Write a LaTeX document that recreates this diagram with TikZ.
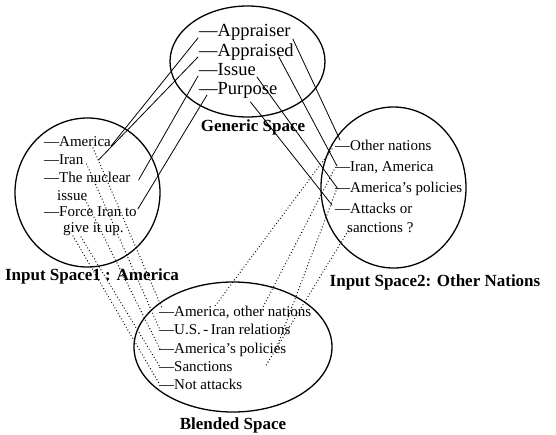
\documentclass[tikz,border=0pt]{standalone}
\usepackage{fontspec}
\setmainfont{Liberation Serif}
\usetikzlibrary{calc}

\begin{document}
\begin{tikzpicture}[x=1pt,y=-1pt,line cap=round,line join=round,
    item/.style={anchor=west,inner sep=0pt,text height=10.5pt,text depth=3pt,font=\fontsize{15}{16}\selectfont},
    gitem/.style={item,text height=13pt,text depth=4pt,font=\fontsize{18.5}{20}\selectfont},
    spacename/.style={inner sep=0pt,font=\fontsize{17}{18}\selectfont\bfseries},
    spaceline/.style={line width=1.3pt},
    link/.style={line width=0.8pt},
    blendlink/.style={line width=1.3pt,dash pattern=on 0pt off 3.2pt}]
                \useasboundingbox (0,0) rectangle (556,434);
                \draw [spaceline] (247.5,61.5) ellipse [x radius=77.5pt, y radius=55.5pt];
                \draw [spaceline] (87.5,192.5) ellipse [x radius=72.5pt, y radius=74.5pt];
                \draw [spaceline] (393.5,187.5) ellipse [x radius=72.5pt, y radius=80.5pt];
                \draw [spaceline] (233,347) ellipse [x radius=99pt, y radius=65pt];
                % generic space
                \node [gitem] (gAr) at (199,32) {---Appraiser};
                \node [gitem] (gAd) at (199,52) {---Appraised};
                \node [gitem] (gIs) at (199,71) {---Issue};
                \node [gitem] (gPu) at (199,90) {---Purpose};
                \node [spacename] (tGen) at (253,127) {Generic Space};
                % input space 1
                \node [item] (lAm) at (44,143) {---America};
                \node [item] (lIr) at (44,161) {---Iran};
                \node [item] (lNu) at (44,179) {---The nuclear};
                \node [item] (lIs) at (57,197) {issue};
                \node [item] (lFo) at (44,213) {---Force Iran to};
                \node [item] (lGi) at (63,229) {give it up.};
                \node [spacename] (tIn1) at (92,276) {Input Space1 : America};
                % input space 2
                \node [item] (rOt) at (335,147) {---Other nations};
                \node [item] (rIr) at (335,168) {---Iran, America};
                \node [item] (rPo) at (335,189) {---America’s policies};
                \node [item] (rAt) at (335,210) {---Attacks or};
                \node [item] (rSa) at (347,229) {sanctions ?};
                \node [spacename] (tIn2) at (435,282) {Input Space2: Other Nations};
                % blended space
                \node [item] (bAm) at (159,313) {---America, other nations};
                \node [item] (bUs) at (159,331) {---U.S.\,-\,Iran relations};
                \node [item] (bPo) at (159,350) {---America’s policies};
                \node [item] (bSa) at (159,368) {---Sanctions};
                \node [item] (bNo) at (159,386) {---Not attacks};
                \node [spacename] (tBl) at (233,425) {Blended Space};
                % generic -> inputs
                \draw [link] ([shift={(-1,6)}]gAr.west) -- ([shift={(0,3)}]lAm.east);
                \draw [link] ([shift={(-1,5)}]gAd.west) -- ([shift={(15,-1)}]lIr.east);
                \draw [link] ([shift={(-1,5)}]gIs.west) -- ([shift={(8,1)}]lNu.east);
                \draw [link] ([shift={(8,5)}]gPu.west) -- ([shift={(1,-4)}]lFo.east);
                \draw [link] ([shift={(2,7)}]gAr.east) -- ([shift={(5,-7)}]rOt.west);
                \draw [link] ([shift={(-15,5)}]gAd.east) -- ([shift={(2,-2)}]rIr.west);
                \draw [link] ([shift={(1,6)}]gIs.east) -- ([shift={(3,0)}]rPo.west);
                \draw [link] ([shift={(-27,12)}]gPu.east) -- ([shift={(-3,-5)}]rAt.west);
                % inputs -> blend
                \draw [blendlink] ([shift={(-18,5)}]lAm.east) -- ([shift={(3,-5)}]bAm.west);
                \draw [blendlink] ([shift={(3,3)}]lIr.east) -- ([shift={(1,-1)}]bUs.west);
                \draw [blendlink] ([shift={(-2,3)}]lIs.east) -- ([shift={(1,-1)}]bPo.west);
                \draw [blendlink] ([shift={(18,8)}]lGi.west) -- ([shift={(1,-1)}]bSa.west);
                \draw [blendlink] ([shift={(10,7)}]lGi.west) -- ([shift={(1,-1)}]bNo.west);
                \draw [blendlink] ([shift={(-3,2)}]rOt.west) -- ([shift={(56,-7)}]bAm.west);
                \draw [blendlink] ([shift={(-1,2)}]rIr.west) -- ([shift={(103,-4)}]bAm.west);
                \draw [blendlink] ([shift={(1,2)}]rPo.west) -- ([shift={(117,-1)}]bPo.west);
                \draw [blendlink] ([shift={(1,2)}]rSa.west) -- ([shift={(106,-1)}]bSa.west);
\end{tikzpicture}
\end{document}
